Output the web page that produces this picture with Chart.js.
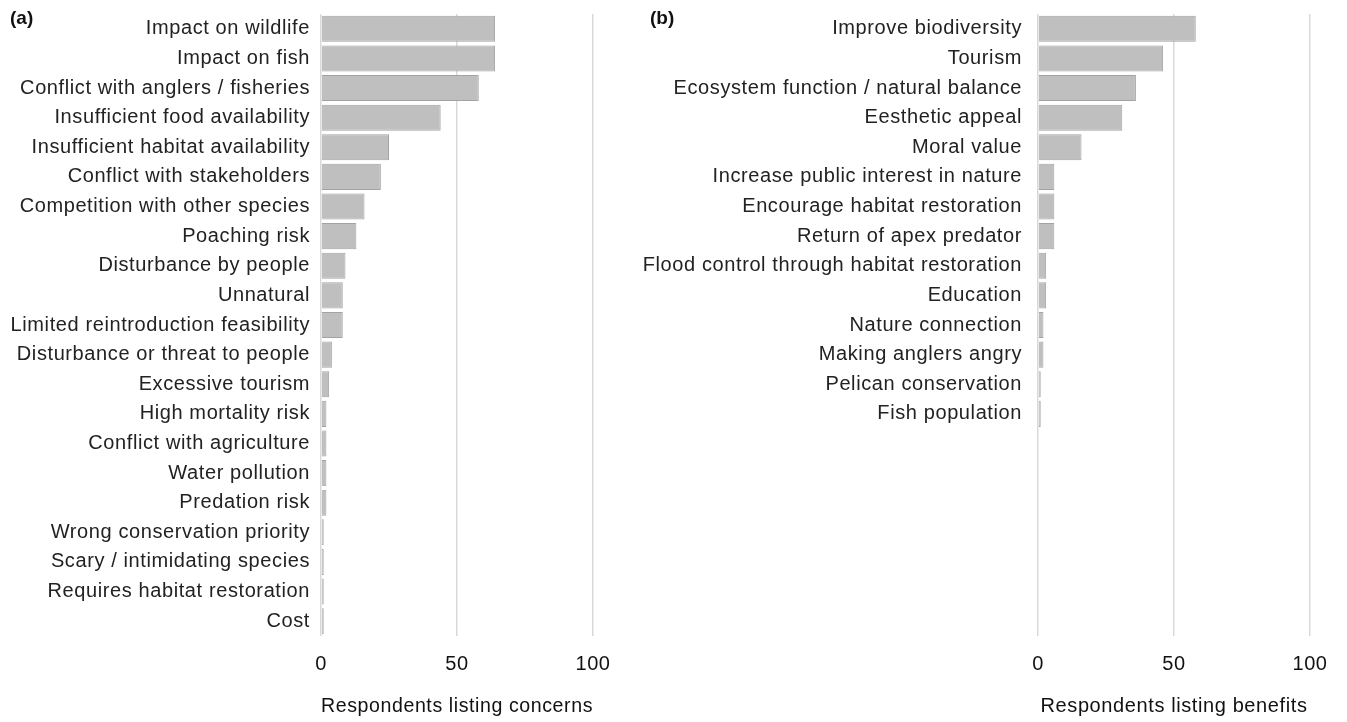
<!DOCTYPE html>
<html>
<head>
<meta charset="utf-8">
<script src="https://cdn.jsdelivr.net/npm/chart.js@4.4.0/dist/chart.umd.min.js"></script>
<style>
  body { margin: 0; background: #fff; width: 1347px; height: 722px; overflow: hidden;
         font-family: 'Liberation Sans', Arial, sans-serif; }
  .panel { position: absolute; top: 0; height: 722px; }
  #wrapA { left: 0; width: 620px; }
  #wrapB { left: 630px; width: 717px; }
  .tag { position: absolute; top: 7px; font-weight: bold; font-size: 19px; color: #111; }
</style>
</head>
<body>
<div class="panel" id="wrapA"><canvas id="concernsChart"></canvas></div>
<div class="panel" id="wrapB"><canvas id="benefitsChart"></canvas></div>
<div class="tag" style="left:10px">(a)</div>
<div class="tag" style="left:650px">(b)</div>

<script>
// Panel (a) - concerns
const concernLabels = [
  'Impact on wildlife', 'Impact on fish', 'Conflict with anglers / fisheries',
  'Insufficient food availability', 'Insufficient habitat availability',
  'Conflict with stakeholders', 'Competition with other species', 'Poaching risk',
  'Disturbance by people', 'Unnatural', 'Limited reintroduction feasibility',
  'Disturbance or threat to people', 'Excessive tourism', 'High mortality risk',
  'Conflict with agriculture', 'Water pollution', 'Predation risk',
  'Wrong conservation priority', 'Scary / intimidating species',
  'Requires habitat restoration', 'Cost'
];
const concernValues = [64, 64, 58, 44, 25, 22, 16, 13, 9, 8, 8, 4, 3, 2, 2, 2, 2, 1, 1, 1, 1];

// Panel (b) - benefits
const benefitLabels = [
  'Improve biodiversity', 'Tourism', 'Ecosystem function / natural balance',
  'Eesthetic appeal', 'Moral value', 'Increase public interest in nature',
  'Encourage habitat restoration', 'Return of apex predator',
  'Flood control through habitat restoration', 'Education', 'Nature connection',
  'Making anglers angry', 'Pelican conservation', 'Fish population'
];
const benefitValues = [58, 46, 36, 31, 16, 6, 6, 6, 3, 3, 2, 2, 1, 1];

const xTicks = [0, 50, 100];
const ROWS = concernLabels.length;
const FONT = { family: "'Liberation Sans', Arial, sans-serif", size: 20 };

// the source figure has loosely spaced text
const spacingPlugin = {
  id: 'spacing',
  beforeDraw(chart) { chart.ctx.letterSpacing = '0.6px'; },
};

//  Shared horizontal bar builder
function buildBarChart(canvasId, labels, values, axisTitle, labelWidth, labelPad, padRight) {
  // blank rows keep both panels on the same row height
  const rowLabels = labels.concat(Array(ROWS - labels.length).fill(''));
  const rowValues = values.concat(Array(ROWS - values.length).fill(null));
  return new Chart(document.getElementById(canvasId), {
    type: 'bar',
    data: {
      labels: rowLabels,
      datasets: [{
        data:               rowValues,
        backgroundColor:    '#bfbfbf',
        borderColor:        '#a3a3a3',
        borderWidth:        1,
        barPercentage:      0.88,
        categoryPercentage: 1,
      }]
    },
    plugins: [spacingPlugin],
    options: {
      indexAxis: 'y',
      responsive: true,
      maintainAspectRatio: false,
      animation: false,
      layout: { padding: { top: 14, right: padRight, left: 0, bottom: 0 } },
      plugins: { legend: { display: false }, tooltip: { enabled: false } },
      scales: {
        x: {
          min: 0,
          max: 100,
          afterBuildTicks: s => { s.ticks = xTicks.map(v => ({ value: v })); },
          grid:   { color: '#d9d9d9', lineWidth: 1.5, drawTicks: false },
          border: { display: false },
          ticks:  { color: '#111', font: FONT, padding: 16 },
          title:  { display: true, text: axisTitle, color: '#111', font: FONT,
                    padding: { top: 0, bottom: 4 } },
          afterFit: s => { s.height = 86; s.paddingLeft = 0; s.paddingRight = 0; },
        },
        y: {
          grid:   { display: false, drawTicks: false },
          border: { display: false },
          ticks:  { color: '#222', font: FONT, padding: labelPad, autoSkip: false },
          afterFit: s => { s.width = labelWidth; s.paddingTop = 0; s.paddingBottom = 0; },
        }
      }
    }
  });
}

document.addEventListener('DOMContentLoaded', () => {
  buildBarChart('concernsChart', concernLabels, concernValues,
                'Respondents listing concerns', 321, 11, 27);
  buildBarChart('benefitsChart', benefitLabels, benefitValues,
                'Respondents listing benefits', 408, 16, 37);
});
</script>
</body>
</html>
